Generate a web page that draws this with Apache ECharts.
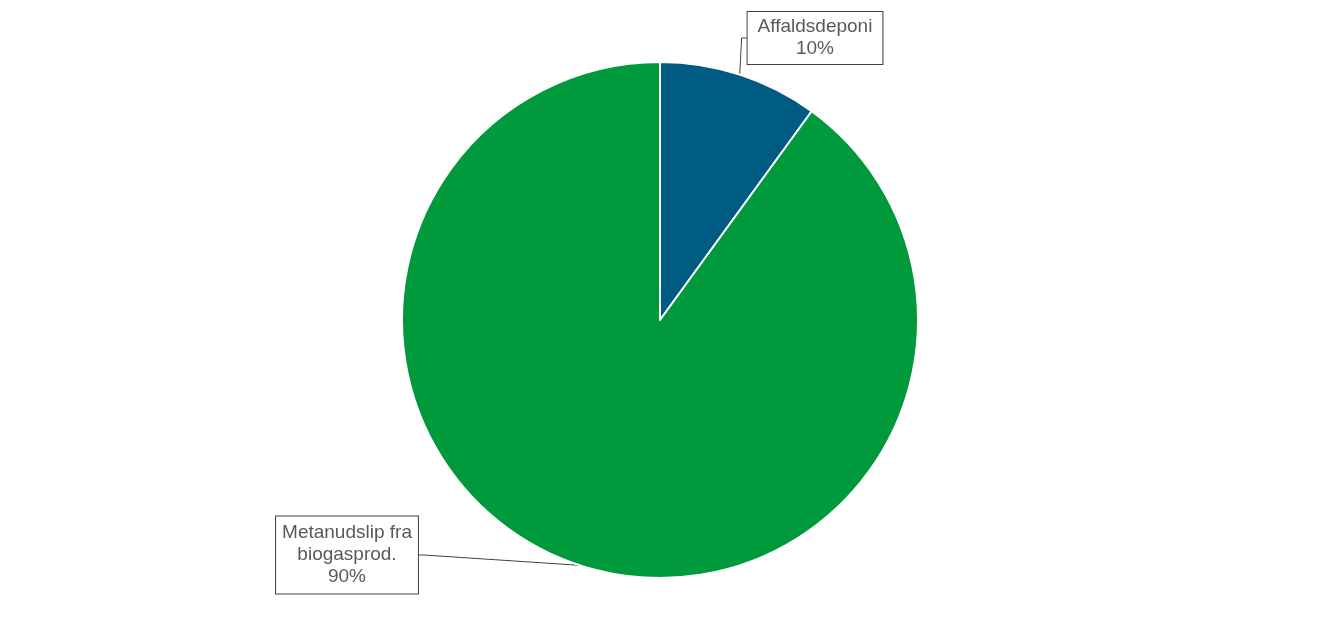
<!DOCTYPE html>
<html>
<head>
<meta charset="utf-8">
<script src="https://cdn.jsdelivr.net/npm/echarts@6/dist/echarts.min.js"></script>
<style>
  html, body { margin: 0; padding: 0; background: #fff; }
  #chart { width: 1320px; height: 640px; }
</style>
</head>
<body>
<div id="chart"></div>
<script>
var categories = ['Affaldsdeponi', 'Metanudslip fra\nbiogasprod.'];
var shares = [10, 90];
var colors = ['#005B82', '#009A3D'];
// label box centres and paddings
var labelPos = [[815, 38], [347, 555]];
var labelPad = [[4, 10, 4, 10], [6, 6, 5, 6]];

var chart = echarts.init(document.getElementById('chart'));

var option = {
  animation: false,
  series: [{
    type: 'pie',
    center: [660, 320],
    radius: [0, 258],
    startAngle: 90,
    clockwise: true,
    data: categories.map(function (c, i) {
      return {
        name: c,
        value: shares[i],
        itemStyle: { color: colors[i] },
        label: { padding: labelPad[i] }
      };
    }),
    itemStyle: { borderColor: '#ffffff', borderWidth: 2 },
    label: {
      show: true,
      position: 'outside',
      formatter: function (p) { return p.name + '\n' + p.value + '%'; },
      fontFamily: 'Liberation Sans, Arial, sans-serif',
      fontSize: 19,
      lineHeight: 22,
      color: '#595959',
      align: 'center',
      backgroundColor: '#ffffff',
      borderColor: '#404040',
      borderWidth: 1
    },
    labelLine: {
      show: true,
      length: 5,
      length2: 5,
      lineStyle: { color: '#404040', width: 1 }
    },
    labelLayout: function (p) {
      var pos = labelPos[p.dataIndex];
      return { x: pos[0], y: pos[1], align: 'center', verticalAlign: 'middle' };
    },
    emphasis: { disabled: true }
  }]
};

chart.setOption(option);
</script>
</body>
</html>
